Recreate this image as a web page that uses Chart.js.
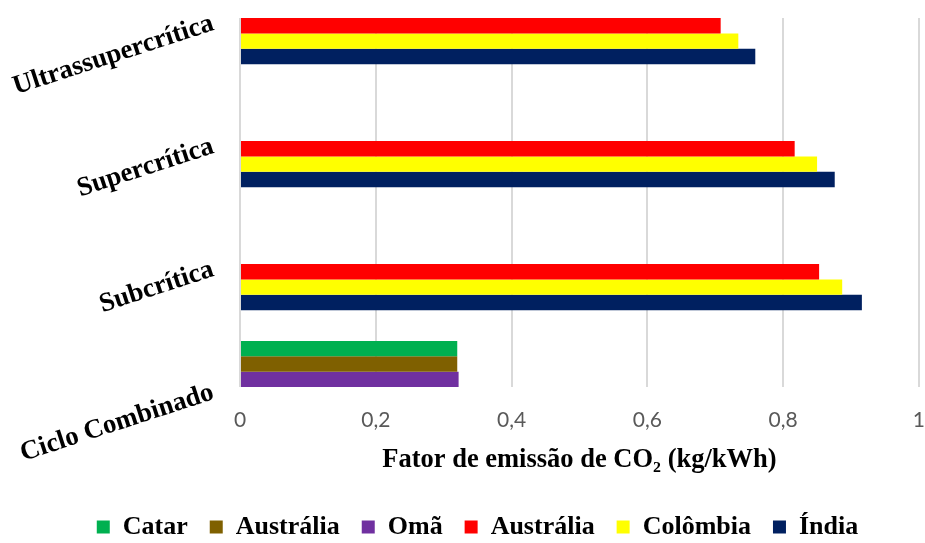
<!DOCTYPE html>
<html>
<head>
<meta charset="utf-8">
<script src="https://cdn.jsdelivr.net/npm/chart.js@4.4.1/dist/chart.umd.min.js"></script>
<style>
html,body{margin:0;padding:0;background:#fff;}
#wrap{width:925px;height:543px;position:relative;}
</style>
</head>
<body>
<div id="wrap"><canvas id="c"></canvas></div>
<script>
const categories = ['Ultrassupercrítica', 'Supercrítica', 'Subcrítica', 'Ciclo Combinado'];
const seriesNames = ['Catar', 'Austrália', 'Omã', 'Austrália', 'Colômbia', 'Índia'];
const catar       = [null, null, null, 0.320];
const australiaCC = [null, null, null, 0.320];
const oma         = [null, null, null, 0.322];
const australia   = [0.708, 0.817, 0.853, null];
const colombia    = [0.734, 0.850, 0.887, null];
const india       = [0.759, 0.876, 0.916, null];
const xTicks = [0, 0.2, 0.4, 0.6, 0.8, 1];
const xTitle = 'Fator de emissão de CO₂ (kg/kWh)';
const seriesColors = ['#00B050', '#7F6000', '#7030A0', '#FF0000', '#FFFF00', '#002060'];

const serif = "'Liberation Serif', 'Times New Roman', serif";
const seriesData = [catar, australiaCC, oma, australia, colombia, india];

new Chart(document.getElementById('c'), {
  type: 'bar',
  data: {
    labels: categories,
    datasets: seriesData.map((d, i) => ({
      label: seriesNames[i],
      data: d,
      backgroundColor: seriesColors[i],
      borderWidth: 0
    }))
  },
  options: {
    indexAxis: 'y',
    responsive: true,
    maintainAspectRatio: false,
    animation: false,
    devicePixelRatio: 1,
    categoryPercentage: 0.75,
    barPercentage: 1,
    layout: { padding: { left: 10, right: -20, top: 18, bottom: -7 } },
    plugins: {
      tooltip: { enabled: false },
      legend: {
        position: 'bottom',
        labels: {
          boxWidth: 13,
          boxHeight: 13,
          padding: 22,
          color: '#000',
          font: { family: serif, size: 26, weight: 'bold' }
        }
      }
    },
    scales: {
      x: {
        type: 'linear',
        min: 0,
        max: 1,
        afterBuildTicks: (scale) => { scale.ticks = xTicks.map(v => ({ value: v })); },
        grid: { color: '#d9d9d9', lineWidth: 2, drawTicks: true, tickLength: 21, tickColor: 'rgba(0,0,0,0)' },
        border: { display: false },
        ticks: {
          padding: 0,
          color: '#595959',
          font: { family: "Lato, 'Open Sans', sans-serif", size: 21 },
          callback: (v) => String(Math.round(v * 10) / 10).replace('.', ',')
        },
        title: {
          display: true,
          text: xTitle,
          color: '#000',
          font: { family: serif, size: 26.5, weight: 'bold' },
          padding: { top: 11, bottom: 16 }
        }
      },
      y: {
        type: 'category',
        offset: false,
        afterFit: (scale) => { scale.width = 230; },
        grid: { display: false, drawTicks: true, tickLength: 27 },
        border: { display: false },
        ticks: {
          autoSkip: false,
          minRotation: 18,
          maxRotation: 18,
          padding: 0,
          labelOffset: 5,
          color: '#000',
          font: { family: serif, size: 27, weight: 'bold' }
        }
      }
    }
  }
});
</script>
</body>
</html>
